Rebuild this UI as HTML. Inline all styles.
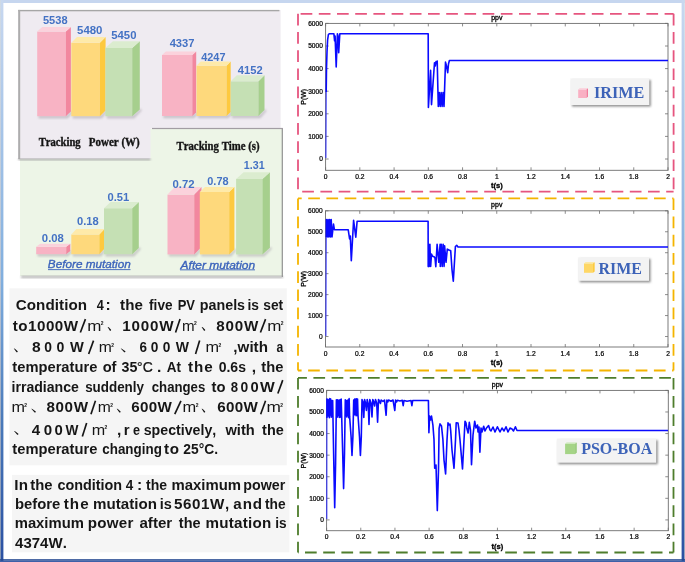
<!DOCTYPE html><html><head><meta charset="utf-8"><style>html,body{margin:0;padding:0;background:#fff;}svg{display:block;will-change:transform}</style></head><body>
<svg width="685" height="562" viewBox="0 0 685 562">
<defs>
<filter id="bl1" x="-20%" y="-20%" width="140%" height="140%"><feGaussianBlur stdDeviation="0.8"/></filter>
<filter id="bl2" x="-20%" y="-20%" width="140%" height="140%"><feGaussianBlur stdDeviation="1"/></filter>
<linearGradient id="fr" x1="0" y1="0" x2="0" y2="1">
 <stop offset="0" stop-color="#c8d8f0"/><stop offset="0.5" stop-color="#80aede"/><stop offset="0.75" stop-color="#4a7aba"/><stop offset="1" stop-color="#2a50a2"/>
</linearGradient>
<linearGradient id="fg" x1="0" y1="0" x2="0" y2="1"><stop offset="0" stop-color="#cfdae6"/><stop offset="0.5" stop-color="#b8c4d4"/><stop offset="1" stop-color="#8494b2"/></linearGradient>
</defs>
<rect width="685" height="562" fill="#ffffff"/>
<rect x="20" y="128.5" width="262.5" height="147.5" fill="#edf5e7"/>
<rect x="21" y="276" width="262" height="1.7" fill="#9c9c9c" filter="url(#bl1)"/>
<rect x="281.7" y="128" width="1.2" height="149" fill="#929292"/>
<path d="M18 10 H280.6 V128.5 H150.5 V159 H18 Z" fill="#efebf1"/>
<rect x="18.2" y="9.9" width="261.2" height="1.4" fill="#a6a6a6"/>
<rect x="18.2" y="9.9" width="2.0" height="149.3" fill="#adadad"/>
<rect x="152" y="127.9" width="130.8" height="1.2" fill="#a29da3"/>
<rect x="18.5" y="158.4" width="132" height="1.9" fill="#a2a2a2" filter="url(#bl1)"/>
<path d="M38.2 115.2 L66.8 115.2 L71.9 110.6 L72.9 112.6 L67.8 118.4 L38.7 118.4 Z" fill="#a9a4ab" opacity="0.55" filter="url(#bl1)"/>
<rect x="37.2" y="31.6" width="28.6" height="84.6" fill="#f8b3c4"/>
<path d="M65.8 31.6 L70.9 27.0 L70.9 111.6 L65.8 116.2 Z" fill="#f2879f"/>
<path d="M37.2 31.6 L42.3 27.0 L70.9 27.0 L65.8 31.6 Z" fill="#fbd2dc"/>
<path d="M72.3 115.2 L100.9 115.2 L106.6 109.4 L107.6 111.4 L101.9 118.4 L72.8 118.4 Z" fill="#a9a4ab" opacity="0.55" filter="url(#bl1)"/>
<rect x="71.3" y="42.8" width="28.6" height="73.4" fill="#fed97c"/>
<path d="M99.9 42.8 L105.6 37.0 L105.6 110.4 L99.9 116.2 Z" fill="#fdc93f"/>
<path d="M71.3 42.8 L77.0 37.0 L105.6 37.0 L99.9 42.8 Z" fill="#feeaa9"/>
<path d="M106.4 115.2 L133.2 115.2 L140.8 108.5 L141.8 110.5 L134.2 118.4 L106.9 118.4 Z" fill="#a9a4ab" opacity="0.55" filter="url(#bl1)"/>
<rect x="105.4" y="47.9" width="26.8" height="68.3" fill="#c5e0b4"/>
<path d="M132.2 47.9 L139.8 41.2 L139.8 109.5 L132.2 116.2 Z" fill="#a6cf8d"/>
<path d="M105.4 47.9 L113.0 41.2 L139.8 41.2 L132.2 47.9 Z" fill="#dbeccf"/>
<text x="42.96" y="24.40" font-family='"Liberation Sans", sans-serif' font-weight="bold" font-style="normal" font-size="11.5" fill="#4472c4" textLength="24.58" lengthAdjust="spacingAndGlyphs" style="font-kerning:none" >5538</text>
<text x="77.05" y="33.60" font-family='"Liberation Sans", sans-serif' font-weight="bold" font-style="normal" font-size="11.5" fill="#4472c4" textLength="25.42" lengthAdjust="spacingAndGlyphs" style="font-kerning:none" >5480</text>
<text x="111.25" y="38.70" font-family='"Liberation Sans", sans-serif' font-weight="bold" font-style="normal" font-size="11.5" fill="#4472c4" textLength="25.21" lengthAdjust="spacingAndGlyphs" style="font-kerning:none" >5450</text>
<path d="M163.0 115.0 L193.3 115.0 L197.2 111.5 L198.2 113.5 L194.3 118.2 L163.5 118.2 Z" fill="#a9a4ab" opacity="0.55" filter="url(#bl1)"/>
<rect x="162.0" y="55.0" width="30.3" height="61.0" fill="#f8b3c4"/>
<path d="M192.3 55.0 L196.2 51.5 L196.2 112.5 L192.3 116.0 Z" fill="#f2879f"/>
<path d="M162.0 55.0 L165.9 51.5 L196.2 51.5 L192.3 55.0 Z" fill="#fbd2dc"/>
<path d="M197.5 115.0 L227.5 115.0 L231.7 110.9 L232.7 112.9 L228.5 118.2 L198.0 118.2 Z" fill="#a9a4ab" opacity="0.55" filter="url(#bl1)"/>
<rect x="196.5" y="65.7" width="30.0" height="50.3" fill="#fed97c"/>
<path d="M226.5 65.7 L230.7 61.6 L230.7 111.9 L226.5 116.0 Z" fill="#fdc93f"/>
<path d="M196.5 65.7 L200.7 61.6 L230.7 61.6 L226.5 65.7 Z" fill="#feeaa9"/>
<path d="M231.7 115.0 L259.4 115.0 L265.5 109.0 L266.5 111.0 L260.4 118.2 L232.2 118.2 Z" fill="#a9a4ab" opacity="0.55" filter="url(#bl1)"/>
<rect x="230.7" y="81.3" width="27.7" height="34.7" fill="#c5e0b4"/>
<path d="M258.4 81.3 L264.5 75.3 L264.5 110.0 L258.4 116.0 Z" fill="#a6cf8d"/>
<path d="M230.7 81.3 L236.8 75.3 L264.5 75.3 L258.4 81.3 Z" fill="#dbeccf"/>
<text x="169.63" y="46.90" font-family='"Liberation Sans", sans-serif' font-weight="bold" font-style="normal" font-size="11.5" fill="#4472c4" textLength="24.86" lengthAdjust="spacingAndGlyphs" style="font-kerning:none" >4337</text>
<text x="201.24" y="60.80" font-family='"Liberation Sans", sans-serif' font-weight="bold" font-style="normal" font-size="11.5" fill="#4472c4" textLength="24.24" lengthAdjust="spacingAndGlyphs" style="font-kerning:none" >4247</text>
<text x="237.73" y="73.90" font-family='"Liberation Sans", sans-serif' font-weight="bold" font-style="normal" font-size="11.5" fill="#4472c4" textLength="24.92" lengthAdjust="spacingAndGlyphs" style="font-kerning:none" >4152</text>
<path d="M37.2 253.2 L67.2 253.2 L71.3 250.1 L72.3 252.1 L68.2 256.4 L37.7 256.4 Z" fill="#a9a4ab" opacity="0.55" filter="url(#bl1)"/>
<rect x="36.2" y="246.8" width="30.0" height="7.4" fill="#f8b3c4"/>
<path d="M66.2 246.8 L70.3 243.7 L70.3 251.1 L66.2 254.2 Z" fill="#f2879f"/>
<path d="M36.2 246.8 L40.3 243.7 L70.3 243.7 L66.2 246.8 Z" fill="#fbd2dc"/>
<path d="M72.3 253.2 L100.3 253.2 L105.4 247.7 L106.4 249.7 L101.3 256.4 L72.8 256.4 Z" fill="#a9a4ab" opacity="0.55" filter="url(#bl1)"/>
<rect x="71.3" y="234.5" width="28.0" height="19.7" fill="#fed97c"/>
<path d="M99.3 234.5 L104.4 229.0 L104.4 248.7 L99.3 254.2 Z" fill="#fdc93f"/>
<path d="M71.3 234.5 L76.4 229.0 L104.4 229.0 L99.3 234.5 Z" fill="#feeaa9"/>
<path d="M105.0 253.2 L133.2 253.2 L139.8 247.1 L140.8 249.1 L134.2 256.4 L105.5 256.4 Z" fill="#a9a4ab" opacity="0.55" filter="url(#bl1)"/>
<rect x="104.0" y="208.2" width="28.2" height="46.0" fill="#c5e0b4"/>
<path d="M132.2 208.2 L138.8 202.1 L138.8 248.1 L132.2 254.2 Z" fill="#a6cf8d"/>
<path d="M104.0 208.2 L110.6 202.1 L138.8 202.1 L132.2 208.2 Z" fill="#dbeccf"/>
<text x="41.85" y="242.00" font-family='"Liberation Sans", sans-serif' font-weight="bold" font-style="normal" font-size="11.5" fill="#4472c4" textLength="21.99" lengthAdjust="spacingAndGlyphs" style="font-kerning:none" >0.08</text>
<text x="76.96" y="224.70" font-family='"Liberation Sans", sans-serif' font-weight="bold" font-style="normal" font-size="11.5" fill="#4472c4" textLength="21.68" lengthAdjust="spacingAndGlyphs" style="font-kerning:none" >0.18</text>
<text x="107.56" y="200.70" font-family='"Liberation Sans", sans-serif' font-weight="bold" font-style="normal" font-size="11.5" fill="#4472c4" textLength="21.75" lengthAdjust="spacingAndGlyphs" style="font-kerning:none" >0.51</text>
<path d="M168.5 253.4 L195.2 253.4 L202.5 245.9 L203.5 247.9 L196.2 256.6 L169.0 256.6 Z" fill="#a9a4ab" opacity="0.55" filter="url(#bl1)"/>
<rect x="167.5" y="194.6" width="26.7" height="59.8" fill="#f8b3c4"/>
<path d="M194.2 194.6 L201.5 187.1 L201.5 246.9 L194.2 254.4 Z" fill="#f2879f"/>
<path d="M167.5 194.6 L174.8 187.1 L201.5 187.1 L194.2 194.6 Z" fill="#fbd2dc"/>
<path d="M200.8 253.4 L230.2 253.4 L235.4 248.5 L236.4 250.5 L231.2 256.6 L201.3 256.6 Z" fill="#a9a4ab" opacity="0.55" filter="url(#bl1)"/>
<rect x="199.8" y="192.0" width="29.4" height="62.4" fill="#fed97c"/>
<path d="M229.2 192.0 L234.4 187.1 L234.4 249.5 L229.2 254.4 Z" fill="#fdc93f"/>
<path d="M199.8 192.0 L205.0 187.1 L234.4 187.1 L229.2 192.0 Z" fill="#feeaa9"/>
<path d="M237.1 253.4 L263.4 253.4 L270.9 246.7 L271.9 248.7 L264.4 256.6 L237.6 256.6 Z" fill="#a9a4ab" opacity="0.55" filter="url(#bl1)"/>
<rect x="236.1" y="178.9" width="26.3" height="75.5" fill="#c5e0b4"/>
<path d="M262.4 178.9 L269.9 172.2 L269.9 247.7 L262.4 254.4 Z" fill="#a6cf8d"/>
<path d="M236.1 178.9 L243.6 172.2 L269.9 172.2 L262.4 178.9 Z" fill="#dbeccf"/>
<text x="172.55" y="188.30" font-family='"Liberation Sans", sans-serif' font-weight="bold" font-style="normal" font-size="11.5" fill="#4472c4" textLength="22.10" lengthAdjust="spacingAndGlyphs" style="font-kerning:none" >0.72</text>
<text x="207.27" y="184.90" font-family='"Liberation Sans", sans-serif' font-weight="bold" font-style="normal" font-size="11.5" fill="#4472c4" textLength="21.27" lengthAdjust="spacingAndGlyphs" style="font-kerning:none" >0.78</text>
<text x="243.83" y="169.00" font-family='"Liberation Sans", sans-serif' font-weight="bold" font-style="normal" font-size="11.5" fill="#4472c4" textLength="20.77" lengthAdjust="spacingAndGlyphs" style="font-kerning:none" >1.31</text>
<text x="38.73" y="145.60" font-family='"Liberation Serif", serif' font-weight="bold" font-style="normal" font-size="11.5" fill="#141414" textLength="41.97" lengthAdjust="spacingAndGlyphs" style="font-kerning:none" stroke="#141414" stroke-width="0.35">Tracking</text>
<text x="88.81" y="145.60" font-family='"Liberation Serif", serif' font-weight="bold" font-style="normal" font-size="11.5" fill="#141414" textLength="50.87" lengthAdjust="spacingAndGlyphs" style="font-kerning:none" stroke="#141414" stroke-width="0.35">Power (W)</text>
<text x="176.53" y="150.00" font-family='"Liberation Serif", serif' font-weight="bold" font-style="normal" font-size="12" fill="#141414" textLength="83.14" lengthAdjust="spacingAndGlyphs" style="font-kerning:none" stroke="#141414" stroke-width="0.35">Tracking Time (s)</text>
<text x="47.84" y="268.20" font-family='"Liberation Sans", sans-serif' font-weight="normal" font-style="italic" font-size="11.8" fill="#3b63bb" textLength="82.89" lengthAdjust="spacingAndGlyphs" style="font-kerning:none" stroke="#3b63bb" stroke-width="0.35">Before mutation</text>
<rect x="48" y="269.2" width="82.5" height="0.9" fill="#3b63bb"/>
<text x="180.59" y="268.60" font-family='"Liberation Sans", sans-serif' font-weight="normal" font-style="italic" font-size="11.8" fill="#3b63bb" textLength="74.55" lengthAdjust="spacingAndGlyphs" style="font-kerning:none" stroke="#3b63bb" stroke-width="0.35">After mutation</text>
<rect x="180" y="269.4" width="75" height="0.9" fill="#3b63bb"/>
<rect x="9.4" y="288.3" width="277.4" height="177.0" fill="#f5f5f5"/>
<rect x="12" y="474.9" width="277.4" height="77.4" fill="#f5f5f5"/>
<text transform="translate(15.68 309.60) scale(1.0700 1)" font-family='"Liberation Sans", sans-serif' font-weight="bold" font-style="normal" font-size="14.2" fill="#161616" letter-spacing="0.068" style="font-kerning:none" >Condition</text>
<text transform="translate(96.71 309.60) scale(0.8940 1)" font-family='"Liberation Sans", sans-serif' font-weight="bold" font-style="normal" font-size="14.2" fill="#161616" letter-spacing="0.000" style="font-kerning:none" >4</text>
<text transform="translate(105.60 309.60) scale(1.1000 1)" font-family='"Liberation Sans", sans-serif' font-weight="bold" font-style="normal" font-size="14.2" fill="#161616" letter-spacing="0.000" style="font-kerning:none" >:</text>
<text transform="translate(120.12 309.60) scale(1.0658 1)" font-family='"Liberation Sans", sans-serif' font-weight="bold" font-style="normal" font-size="14.2" fill="#161616" letter-spacing="0.000" style="font-kerning:none" >the</text>
<text transform="translate(149.07 309.60) scale(0.9604 1)" font-family='"Liberation Sans", sans-serif' font-weight="bold" font-style="normal" font-size="14.2" fill="#161616" letter-spacing="0.000" style="font-kerning:none" >five</text>
<text transform="translate(177.63 309.60) scale(0.9164 1)" font-family='"Liberation Sans", sans-serif' font-weight="bold" font-style="normal" font-size="14.2" fill="#161616" letter-spacing="0.000" style="font-kerning:none" >PV</text>
<text transform="translate(199.76 309.60) scale(1.0077 1)" font-family='"Liberation Sans", sans-serif' font-weight="bold" font-style="normal" font-size="14.2" fill="#161616" letter-spacing="-0.000" style="font-kerning:none" >panels</text>
<text transform="translate(247.53 309.60) scale(0.9738 1)" font-family='"Liberation Sans", sans-serif' font-weight="bold" font-style="normal" font-size="14.2" fill="#161616" letter-spacing="0.000" style="font-kerning:none" >is</text>
<text transform="translate(263.21 309.60) scale(0.9722 1)" font-family='"Liberation Sans", sans-serif' font-weight="bold" font-style="normal" font-size="14.2" fill="#161616" letter-spacing="0.000" style="font-kerning:none" >set</text>
<text transform="translate(12.71 330.50) scale(1.0700 1)" font-family='"Liberation Sans", sans-serif' font-weight="bold" font-style="normal" font-size="14.2" fill="#161616" letter-spacing="0.470" style="font-kerning:none" >to1000W</text>
<line x1="80.35" y1="332.50" x2="85.45" y2="319.10" stroke="#161616" stroke-width="1.65"/>
<text x="87.37" y="330.50" font-family='"Liberation Sans", sans-serif' font-weight="normal" font-style="normal" font-size="15.2" fill="#161616" textLength="14.15" lengthAdjust="spacingAndGlyphs" style="font-kerning:none" >m</text><text x="100.83" y="325.10" font-family='"Liberation Sans", sans-serif' font-weight="bold" font-style="normal" font-size="5.6" fill="#161616" textLength="2.77" lengthAdjust="spacingAndGlyphs" style="font-kerning:none" >2</text>
<path d="M107.60 327.10 Q108.50 326.70 109.00 327.60 L111.10 329.80 Q111.30 331.10 109.90 330.70 Z" fill="#161616"/>
<text transform="translate(122.14 330.50) scale(1.0700 1)" font-family='"Liberation Sans", sans-serif' font-weight="bold" font-style="normal" font-size="14.2" fill="#161616" letter-spacing="0.801" style="font-kerning:none" >1000W</text>
<line x1="175.55" y1="332.50" x2="180.05" y2="319.10" stroke="#161616" stroke-width="1.65"/>
<text x="181.90" y="330.50" font-family='"Liberation Sans", sans-serif' font-weight="normal" font-style="normal" font-size="15.2" fill="#161616" textLength="12.60" lengthAdjust="spacingAndGlyphs" style="font-kerning:none" >m</text><text x="193.93" y="325.10" font-family='"Liberation Sans", sans-serif' font-weight="bold" font-style="normal" font-size="5.6" fill="#161616" textLength="2.77" lengthAdjust="spacingAndGlyphs" style="font-kerning:none" >2</text>
<path d="M201.60 327.10 Q202.50 326.70 203.00 327.60 L205.20 329.80 Q205.40 331.10 204.00 330.70 Z" fill="#161616"/>
<text transform="translate(216.32 330.50) scale(1.0700 1)" font-family='"Liberation Sans", sans-serif' font-weight="bold" font-style="normal" font-size="14.2" fill="#161616" letter-spacing="0.749" style="font-kerning:none" >800W</text>
<line x1="260.45" y1="332.50" x2="265.55" y2="319.10" stroke="#161616" stroke-width="1.65"/>
<text x="267.17" y="330.50" font-family='"Liberation Sans", sans-serif' font-weight="normal" font-style="normal" font-size="15.2" fill="#161616" textLength="14.15" lengthAdjust="spacingAndGlyphs" style="font-kerning:none" >m</text><text x="280.63" y="325.10" font-family='"Liberation Sans", sans-serif' font-weight="bold" font-style="normal" font-size="5.6" fill="#161616" textLength="2.77" lengthAdjust="spacingAndGlyphs" style="font-kerning:none" >2</text>
<path d="M13.80 348.60 Q14.70 348.20 15.20 349.10 L17.70 351.30 Q17.90 352.60 16.50 352.20 Z" fill="#161616"/>
<text transform="translate(32.10 352.00) scale(1.0985 1)" font-family='"Liberation Sans", sans-serif' font-weight="bold" font-style="normal" font-size="14.2" fill="#161616" letter-spacing="0.000" style="font-kerning:none" >8</text>
<text transform="translate(44.35 352.00) scale(0.9773 1)" font-family='"Liberation Sans", sans-serif' font-weight="bold" font-style="normal" font-size="14.2" fill="#161616" letter-spacing="0.000" style="font-kerning:none" >0</text>
<text transform="translate(56.54 352.00) scale(0.9921 1)" font-family='"Liberation Sans", sans-serif' font-weight="bold" font-style="normal" font-size="14.2" fill="#161616" letter-spacing="0.000" style="font-kerning:none" >0</text>
<text transform="translate(69.89 352.00) scale(1.0318 1)" font-family='"Liberation Sans", sans-serif' font-weight="bold" font-style="normal" font-size="14.2" fill="#161616" letter-spacing="0.000" style="font-kerning:none" >W</text>
<line x1="88.65" y1="354.00" x2="93.55" y2="340.60" stroke="#161616" stroke-width="1.65"/>
<text x="98.86" y="352.00" font-family='"Liberation Sans", sans-serif' font-weight="normal" font-style="normal" font-size="15.2" fill="#161616" textLength="13.08" lengthAdjust="spacingAndGlyphs" style="font-kerning:none" >m</text><text x="111.33" y="346.60" font-family='"Liberation Sans", sans-serif' font-weight="bold" font-style="normal" font-size="5.6" fill="#161616" textLength="2.77" lengthAdjust="spacingAndGlyphs" style="font-kerning:none" >2</text>
<path d="M120.70 348.60 Q121.60 348.20 122.10 349.10 L125.40 351.30 Q125.60 352.60 124.20 352.20 Z" fill="#161616"/>
<text transform="translate(139.41 352.00) scale(0.9469 1)" font-family='"Liberation Sans", sans-serif' font-weight="bold" font-style="normal" font-size="14.2" fill="#161616" letter-spacing="0.000" style="font-kerning:none" >6</text>
<text transform="translate(150.76 352.00) scale(0.9625 1)" font-family='"Liberation Sans", sans-serif' font-weight="bold" font-style="normal" font-size="14.2" fill="#161616" letter-spacing="0.000" style="font-kerning:none" >0</text>
<text transform="translate(162.66 352.00) scale(0.9625 1)" font-family='"Liberation Sans", sans-serif' font-weight="bold" font-style="normal" font-size="14.2" fill="#161616" letter-spacing="0.000" style="font-kerning:none" >0</text>
<text transform="translate(175.79 352.00) scale(0.9869 1)" font-family='"Liberation Sans", sans-serif' font-weight="bold" font-style="normal" font-size="14.2" fill="#161616" letter-spacing="0.000" style="font-kerning:none" >W</text>
<line x1="195.55" y1="354.00" x2="199.65" y2="340.60" stroke="#161616" stroke-width="1.65"/>
<text x="205.52" y="352.00" font-family='"Liberation Sans", sans-serif' font-weight="normal" font-style="normal" font-size="15.2" fill="#161616" textLength="13.55" lengthAdjust="spacingAndGlyphs" style="font-kerning:none" >m</text><text x="218.43" y="346.60" font-family='"Liberation Sans", sans-serif' font-weight="bold" font-style="normal" font-size="5.6" fill="#161616" textLength="2.77" lengthAdjust="spacingAndGlyphs" style="font-kerning:none" >2</text>
<text transform="translate(233.37 352.00) scale(1.0691 1)" font-family='"Liberation Sans", sans-serif' font-weight="bold" font-style="normal" font-size="14.2" fill="#161616" letter-spacing="0.000" style="font-kerning:none" >,with</text>
<text transform="translate(276.54 352.00) scale(0.8585 1)" font-family='"Liberation Sans", sans-serif' font-weight="bold" font-style="normal" font-size="14.2" fill="#161616" letter-spacing="0.000" style="font-kerning:none" >a</text>
<text transform="translate(12.32 371.70) scale(1.0367 1)" font-family='"Liberation Sans", sans-serif' font-weight="bold" font-style="normal" font-size="14.2" fill="#161616" letter-spacing="0.000" style="font-kerning:none" >temperature</text>
<text transform="translate(102.63 371.70) scale(1.0330 1)" font-family='"Liberation Sans", sans-serif' font-weight="bold" font-style="normal" font-size="14.2" fill="#161616" letter-spacing="-0.000" style="font-kerning:none" >of</text>
<text transform="translate(121.47 371.70) scale(1.0017 1)" font-family='"Liberation Sans", sans-serif' font-weight="bold" font-style="normal" font-size="14.2" fill="#161616" letter-spacing="0.000" style="font-kerning:none" >35</text>
<text transform="translate(137.07 371.70) scale(0.9306 1)" font-family='"Liberation Sans", sans-serif' font-weight="normal" font-style="normal" font-size="15.0" fill="#161616" letter-spacing="0.000" style="font-kerning:none" stroke="#161616" stroke-width="0.25">°C</text>
<text transform="translate(156.94 371.70) scale(1.1000 1)" font-family='"Liberation Sans", sans-serif' font-weight="bold" font-style="normal" font-size="14.2" fill="#161616" letter-spacing="0.000" style="font-kerning:none" >.</text>
<text transform="translate(166.86 371.70) scale(0.9477 1)" font-family='"Liberation Sans", sans-serif' font-weight="bold" font-style="normal" font-size="14.2" fill="#161616" letter-spacing="0.000" style="font-kerning:none" >At</text>
<text transform="translate(187.91 371.70) scale(1.0700 1)" font-family='"Liberation Sans", sans-serif' font-weight="bold" font-style="normal" font-size="14.2" fill="#161616" letter-spacing="0.894" style="font-kerning:none" >the</text>
<text transform="translate(218.64 371.70) scale(0.9889 1)" font-family='"Liberation Sans", sans-serif' font-weight="bold" font-style="normal" font-size="14.2" fill="#161616" letter-spacing="0.000" style="font-kerning:none" >0.6s</text>
<text transform="translate(251.77 371.70) scale(1.1000 1)" font-family='"Liberation Sans", sans-serif' font-weight="bold" font-style="normal" font-size="14.2" fill="#161616" letter-spacing="0.000" style="font-kerning:none" >,</text>
<text transform="translate(261.32 371.70) scale(1.0368 1)" font-family='"Liberation Sans", sans-serif' font-weight="bold" font-style="normal" font-size="14.2" fill="#161616" letter-spacing="-0.000" style="font-kerning:none" >the</text>
<text transform="translate(11.51 391.50) scale(0.9939 1)" font-family='"Liberation Sans", sans-serif' font-weight="bold" font-style="normal" font-size="14.2" fill="#161616" letter-spacing="0.000" style="font-kerning:none" >irradiance</text>
<text transform="translate(85.13 391.50) scale(0.9456 1)" font-family='"Liberation Sans", sans-serif' font-weight="bold" font-style="normal" font-size="14.2" fill="#161616" letter-spacing="0.000" style="font-kerning:none" >suddenly</text>
<text transform="translate(151.78 391.50) scale(0.9296 1)" font-family='"Liberation Sans", sans-serif' font-weight="bold" font-style="normal" font-size="14.2" fill="#161616" letter-spacing="0.000" style="font-kerning:none" >changes</text>
<text transform="translate(211.62 391.50) scale(1.0415 1)" font-family='"Liberation Sans", sans-serif' font-weight="bold" font-style="normal" font-size="14.2" fill="#161616" letter-spacing="0.000" style="font-kerning:none" >to</text>
<text transform="translate(230.68 391.50) scale(0.9273 1)" font-family='"Liberation Sans", sans-serif' font-weight="bold" font-style="normal" font-size="14.2" fill="#161616" letter-spacing="0.000" style="font-kerning:none" >8</text>
<text transform="translate(240.55 391.50) scale(0.9773 1)" font-family='"Liberation Sans", sans-serif' font-weight="bold" font-style="normal" font-size="14.2" fill="#161616" letter-spacing="0.000" style="font-kerning:none" >0</text>
<text transform="translate(250.62 391.50) scale(1.0365 1)" font-family='"Liberation Sans", sans-serif' font-weight="bold" font-style="normal" font-size="14.2" fill="#161616" letter-spacing="0.000" style="font-kerning:none" >0</text>
<text transform="translate(260.03 391.50) scale(1.1000 1)" font-family='"Liberation Sans", sans-serif' font-weight="bold" font-style="normal" font-size="14.2" fill="#161616" letter-spacing="0.000" style="font-kerning:none" >W</text>
<line x1="277.85" y1="393.50" x2="282.75" y2="380.10" stroke="#161616" stroke-width="1.65"/>
<text x="11.43" y="412.20" font-family='"Liberation Sans", sans-serif' font-weight="normal" font-style="normal" font-size="15.2" fill="#161616" textLength="13.43" lengthAdjust="spacingAndGlyphs" style="font-kerning:none" >m</text><text x="24.23" y="406.80" font-family='"Liberation Sans", sans-serif' font-weight="bold" font-style="normal" font-size="5.6" fill="#161616" textLength="2.77" lengthAdjust="spacingAndGlyphs" style="font-kerning:none" >2</text>
<path d="M31.30 408.80 Q32.20 408.40 32.70 409.30 L35.80 411.50 Q36.00 412.80 34.60 412.40 Z" fill="#161616"/>
<text transform="translate(46.42 412.20) scale(1.0700 1)" font-family='"Liberation Sans", sans-serif' font-weight="bold" font-style="normal" font-size="14.2" fill="#161616" letter-spacing="0.594" style="font-kerning:none" >800W</text>
<line x1="90.95" y1="414.20" x2="95.45" y2="400.80" stroke="#161616" stroke-width="1.65"/>
<text x="97.86" y="412.20" font-family='"Liberation Sans", sans-serif' font-weight="normal" font-style="normal" font-size="15.2" fill="#161616" textLength="13.08" lengthAdjust="spacingAndGlyphs" style="font-kerning:none" >m</text><text x="110.33" y="406.80" font-family='"Liberation Sans", sans-serif' font-weight="bold" font-style="normal" font-size="5.6" fill="#161616" textLength="2.77" lengthAdjust="spacingAndGlyphs" style="font-kerning:none" >2</text>
<path d="M116.70 408.80 Q117.60 408.40 118.10 409.30 L120.60 411.50 Q120.80 412.80 119.40 412.40 Z" fill="#161616"/>
<text transform="translate(131.24 412.20) scale(1.0700 1)" font-family='"Liberation Sans", sans-serif' font-weight="bold" font-style="normal" font-size="14.2" fill="#161616" letter-spacing="0.305" style="font-kerning:none" >600W</text>
<line x1="174.75" y1="414.20" x2="180.95" y2="400.80" stroke="#161616" stroke-width="1.65"/>
<text x="182.61" y="412.20" font-family='"Liberation Sans", sans-serif' font-weight="normal" font-style="normal" font-size="15.2" fill="#161616" textLength="13.67" lengthAdjust="spacingAndGlyphs" style="font-kerning:none" >m</text><text x="195.63" y="406.80" font-family='"Liberation Sans", sans-serif' font-weight="bold" font-style="normal" font-size="5.6" fill="#161616" textLength="2.77" lengthAdjust="spacingAndGlyphs" style="font-kerning:none" >2</text>
<path d="M201.60 408.80 Q202.50 408.40 203.00 409.30 L205.20 411.50 Q205.40 412.80 204.00 412.40 Z" fill="#161616"/>
<text transform="translate(217.14 412.20) scale(1.0700 1)" font-family='"Liberation Sans", sans-serif' font-weight="bold" font-style="normal" font-size="14.2" fill="#161616" letter-spacing="0.305" style="font-kerning:none" >600W</text>
<line x1="260.65" y1="414.20" x2="265.55" y2="400.80" stroke="#161616" stroke-width="1.65"/>
<text x="266.55" y="412.20" font-family='"Liberation Sans", sans-serif' font-weight="normal" font-style="normal" font-size="15.2" fill="#161616" textLength="14.39" lengthAdjust="spacingAndGlyphs" style="font-kerning:none" >m</text><text x="280.23" y="406.80" font-family='"Liberation Sans", sans-serif' font-weight="bold" font-style="normal" font-size="5.6" fill="#161616" textLength="2.77" lengthAdjust="spacingAndGlyphs" style="font-kerning:none" >2</text>
<path d="M14.00 431.10 Q14.90 430.70 15.40 431.60 L18.40 433.80 Q18.60 435.10 17.20 434.70 Z" fill="#161616"/>
<text transform="translate(31.87 434.50) scale(1.0649 1)" font-family='"Liberation Sans", sans-serif' font-weight="bold" font-style="normal" font-size="14.2" fill="#161616" letter-spacing="0.000" style="font-kerning:none" >4</text>
<text transform="translate(43.70 434.50) scale(1.0661 1)" font-family='"Liberation Sans", sans-serif' font-weight="bold" font-style="normal" font-size="14.2" fill="#161616" letter-spacing="0.000" style="font-kerning:none" >0</text>
<text transform="translate(54.41 434.50) scale(1.0513 1)" font-family='"Liberation Sans", sans-serif' font-weight="bold" font-style="normal" font-size="14.2" fill="#161616" letter-spacing="0.000" style="font-kerning:none" >0</text>
<text transform="translate(65.59 434.50) scale(0.9645 1)" font-family='"Liberation Sans", sans-serif' font-weight="bold" font-style="normal" font-size="14.2" fill="#161616" letter-spacing="0.000" style="font-kerning:none" >W</text>
<line x1="82.35" y1="436.50" x2="86.65" y2="423.10" stroke="#161616" stroke-width="1.65"/>
<text x="91.73" y="434.50" font-family='"Liberation Sans", sans-serif' font-weight="normal" font-style="normal" font-size="15.2" fill="#161616" textLength="13.43" lengthAdjust="spacingAndGlyphs" style="font-kerning:none" >m</text><text x="104.53" y="429.10" font-family='"Liberation Sans", sans-serif' font-weight="bold" font-style="normal" font-size="5.6" fill="#161616" textLength="2.77" lengthAdjust="spacingAndGlyphs" style="font-kerning:none" >2</text>
<text transform="translate(117.02 434.50) scale(1.1000 1)" font-family='"Liberation Sans", sans-serif' font-weight="bold" font-style="normal" font-size="14.2" fill="#161616" letter-spacing="0.000" style="font-kerning:none" >,</text>
<text transform="translate(123.82 434.50) scale(1.0514 1)" font-family='"Liberation Sans", sans-serif' font-weight="bold" font-style="normal" font-size="14.2" fill="#161616" letter-spacing="0.000" style="font-kerning:none" >r</text>
<text transform="translate(133.01 434.50) scale(0.8896 1)" font-family='"Liberation Sans", sans-serif' font-weight="bold" font-style="normal" font-size="14.2" fill="#161616" letter-spacing="0.000" style="font-kerning:none" >e</text>
<text transform="translate(143.70 434.50) scale(0.9990 1)" font-family='"Liberation Sans", sans-serif' font-weight="bold" font-style="normal" font-size="14.2" fill="#161616" letter-spacing="0.000" style="font-kerning:none" >spectively,</text>
<text transform="translate(225.44 434.50) scale(1.0343 1)" font-family='"Liberation Sans", sans-serif' font-weight="bold" font-style="normal" font-size="14.2" fill="#161616" letter-spacing="0.000" style="font-kerning:none" >with</text>
<text transform="translate(262.12 434.50) scale(1.0174 1)" font-family='"Liberation Sans", sans-serif' font-weight="bold" font-style="normal" font-size="14.2" fill="#161616" letter-spacing="0.000" style="font-kerning:none" >the</text>
<text transform="translate(12.32 453.60) scale(1.0367 1)" font-family='"Liberation Sans", sans-serif' font-weight="bold" font-style="normal" font-size="14.2" fill="#161616" letter-spacing="0.000" style="font-kerning:none" >temperature</text>
<text transform="translate(102.28 453.60) scale(0.9447 1)" font-family='"Liberation Sans", sans-serif' font-weight="bold" font-style="normal" font-size="14.2" fill="#161616" letter-spacing="0.000" style="font-kerning:none" >changing</text>
<text transform="translate(163.91 453.60) scale(1.0700 1)" font-family='"Liberation Sans", sans-serif' font-weight="bold" font-style="normal" font-size="14.2" fill="#161616" letter-spacing="0.783" style="font-kerning:none" >to</text>
<text transform="translate(183.32 453.60) scale(0.9736 1)" font-family='"Liberation Sans", sans-serif' font-weight="bold" font-style="normal" font-size="14.2" fill="#161616" letter-spacing="0.000" style="font-kerning:none" >25°C.</text>
<text transform="translate(14.28 489.50) scale(1.0700 1)" font-family='"Liberation Sans", sans-serif' font-weight="bold" font-style="normal" font-size="14.2" fill="#161616" letter-spacing="0.239" style="font-kerning:none" >In</text>
<text transform="translate(30.22 489.50) scale(1.0464 1)" font-family='"Liberation Sans", sans-serif' font-weight="bold" font-style="normal" font-size="14.2" fill="#161616" letter-spacing="0.000" style="font-kerning:none" >the</text>
<text transform="translate(57.44 489.50) scale(1.0136 1)" font-family='"Liberation Sans", sans-serif' font-weight="bold" font-style="normal" font-size="14.2" fill="#161616" letter-spacing="-0.000" style="font-kerning:none" >condition</text>
<text transform="translate(125.70 489.50) scale(0.9466 1)" font-family='"Liberation Sans", sans-serif' font-weight="bold" font-style="normal" font-size="14.2" fill="#161616" letter-spacing="0.000" style="font-kerning:none" >4</text>
<text transform="translate(137.10 489.50) scale(1.1000 1)" font-family='"Liberation Sans", sans-serif' font-weight="bold" font-style="normal" font-size="14.2" fill="#161616" letter-spacing="0.000" style="font-kerning:none" >:</text>
<text transform="translate(146.03 489.50) scale(0.9883 1)" font-family='"Liberation Sans", sans-serif' font-weight="bold" font-style="normal" font-size="14.2" fill="#161616" letter-spacing="0.000" style="font-kerning:none" >the</text>
<text transform="translate(171.52 489.50) scale(1.0500 1)" font-family='"Liberation Sans", sans-serif' font-weight="bold" font-style="normal" font-size="14.2" fill="#161616" letter-spacing="0.000" style="font-kerning:none" >maximum</text>
<text transform="translate(243.26 489.50) scale(1.0058 1)" font-family='"Liberation Sans", sans-serif' font-weight="bold" font-style="normal" font-size="14.2" fill="#161616" letter-spacing="0.000" style="font-kerning:none" >power</text>
<text transform="translate(14.92 508.60) scale(1.0482 1)" font-family='"Liberation Sans", sans-serif' font-weight="bold" font-style="normal" font-size="14.2" fill="#161616" letter-spacing="0.000" style="font-kerning:none" >before</text>
<text transform="translate(63.71 508.60) scale(1.0700 1)" font-family='"Liberation Sans", sans-serif' font-weight="bold" font-style="normal" font-size="14.2" fill="#161616" letter-spacing="1.034" style="font-kerning:none" >the</text>
<text transform="translate(93.10 508.60) scale(1.0666 1)" font-family='"Liberation Sans", sans-serif' font-weight="bold" font-style="normal" font-size="14.2" fill="#161616" letter-spacing="0.000" style="font-kerning:none" >mutation</text>
<text transform="translate(159.69 508.60) scale(1.0225 1)" font-family='"Liberation Sans", sans-serif' font-weight="bold" font-style="normal" font-size="14.2" fill="#161616" letter-spacing="-0.000" style="font-kerning:none" >is</text>
<text transform="translate(174.03 508.60) scale(1.0700 1)" font-family='"Liberation Sans", sans-serif' font-weight="bold" font-style="normal" font-size="14.2" fill="#161616" letter-spacing="0.527" style="font-kerning:none" >5601W,</text>
<text transform="translate(233.35 508.60) scale(1.0700 1)" font-family='"Liberation Sans", sans-serif' font-weight="bold" font-style="normal" font-size="14.2" fill="#161616" letter-spacing="0.810" style="font-kerning:none" >and</text>
<text transform="translate(264.93 508.60) scale(0.9689 1)" font-family='"Liberation Sans", sans-serif' font-weight="bold" font-style="normal" font-size="14.2" fill="#161616" letter-spacing="0.000" style="font-kerning:none" >the</text>
<text transform="translate(14.72 528.00) scale(1.0438 1)" font-family='"Liberation Sans", sans-serif' font-weight="bold" font-style="normal" font-size="14.2" fill="#161616" letter-spacing="0.000" style="font-kerning:none" >maximum</text>
<text transform="translate(87.70 528.00) scale(1.0700 1)" font-family='"Liberation Sans", sans-serif' font-weight="bold" font-style="normal" font-size="14.2" fill="#161616" letter-spacing="0.254" style="font-kerning:none" >power</text>
<text transform="translate(139.46 528.00) scale(1.0648 1)" font-family='"Liberation Sans", sans-serif' font-weight="bold" font-style="normal" font-size="14.2" fill="#161616" letter-spacing="0.000" style="font-kerning:none" >after</text>
<text transform="translate(178.82 528.00) scale(1.0222 1)" font-family='"Liberation Sans", sans-serif' font-weight="bold" font-style="normal" font-size="14.2" fill="#161616" letter-spacing="0.000" style="font-kerning:none" >the</text>
<text transform="translate(205.60 528.00) scale(1.0700 1)" font-family='"Liberation Sans", sans-serif' font-weight="bold" font-style="normal" font-size="14.2" fill="#161616" letter-spacing="0.200" style="font-kerning:none" >mutation</text>
<text transform="translate(275.24 528.00) scale(0.9641 1)" font-family='"Liberation Sans", sans-serif' font-weight="bold" font-style="normal" font-size="14.2" fill="#161616" letter-spacing="0.000" style="font-kerning:none" >is</text>
<text transform="translate(15.07 547.60) scale(1.0577 1)" font-family='"Liberation Sans", sans-serif' font-weight="bold" font-style="normal" font-size="14.2" fill="#161616" letter-spacing="0.000" style="font-kerning:none" >4374W.</text>
<line x1="298.0" y1="13.8" x2="673.6" y2="13.8" stroke="#e6557f" stroke-width="1.8" stroke-dasharray="11.7 6.5" stroke-dashoffset="15.6"/>
<line x1="298.0" y1="191.7" x2="673.6" y2="191.7" stroke="#e6557f" stroke-width="1.8" stroke-dasharray="11.7 6.5" stroke-dashoffset="14.0"/>
<line x1="298.0" y1="13.8" x2="298.0" y2="191.7" stroke="#e6557f" stroke-width="1.8" stroke-dasharray="11.7 6.5" stroke-dashoffset="0"/>
<line x1="673.6" y1="13.8" x2="673.6" y2="191.7" stroke="#e6557f" stroke-width="1.8" stroke-dasharray="11.7 6.5" stroke-dashoffset="0"/>
<rect x="325.6" y="23.4" width="342.4" height="146.9" fill="#fff" stroke="#6e6e6e" stroke-width="0.9"/>
<line x1="325.60" y1="170.3" x2="325.60" y2="167.3" stroke="#6e6e6e" stroke-width="0.8"/>
<line x1="325.60" y1="23.4" x2="325.60" y2="26.4" stroke="#6e6e6e" stroke-width="0.8"/>
<text x="325.60" y="178.80" font-family='"Liberation Sans", sans-serif' font-weight="normal" font-style="normal" font-size="6.7" fill="#000" text-anchor="middle" stroke="#000" stroke-width="0.22">0</text>
<line x1="359.84" y1="170.3" x2="359.84" y2="167.3" stroke="#6e6e6e" stroke-width="0.8"/>
<line x1="359.84" y1="23.4" x2="359.84" y2="26.4" stroke="#6e6e6e" stroke-width="0.8"/>
<text x="359.84" y="178.80" font-family='"Liberation Sans", sans-serif' font-weight="normal" font-style="normal" font-size="6.7" fill="#000" text-anchor="middle" stroke="#000" stroke-width="0.22">0.2</text>
<line x1="394.08" y1="170.3" x2="394.08" y2="167.3" stroke="#6e6e6e" stroke-width="0.8"/>
<line x1="394.08" y1="23.4" x2="394.08" y2="26.4" stroke="#6e6e6e" stroke-width="0.8"/>
<text x="394.08" y="178.80" font-family='"Liberation Sans", sans-serif' font-weight="normal" font-style="normal" font-size="6.7" fill="#000" text-anchor="middle" stroke="#000" stroke-width="0.22">0.4</text>
<line x1="428.32" y1="170.3" x2="428.32" y2="167.3" stroke="#6e6e6e" stroke-width="0.8"/>
<line x1="428.32" y1="23.4" x2="428.32" y2="26.4" stroke="#6e6e6e" stroke-width="0.8"/>
<text x="428.32" y="178.80" font-family='"Liberation Sans", sans-serif' font-weight="normal" font-style="normal" font-size="6.7" fill="#000" text-anchor="middle" stroke="#000" stroke-width="0.22">0.6</text>
<line x1="462.56" y1="170.3" x2="462.56" y2="167.3" stroke="#6e6e6e" stroke-width="0.8"/>
<line x1="462.56" y1="23.4" x2="462.56" y2="26.4" stroke="#6e6e6e" stroke-width="0.8"/>
<text x="462.56" y="178.80" font-family='"Liberation Sans", sans-serif' font-weight="normal" font-style="normal" font-size="6.7" fill="#000" text-anchor="middle" stroke="#000" stroke-width="0.22">0.8</text>
<line x1="496.80" y1="170.3" x2="496.80" y2="167.3" stroke="#6e6e6e" stroke-width="0.8"/>
<line x1="496.80" y1="23.4" x2="496.80" y2="26.4" stroke="#6e6e6e" stroke-width="0.8"/>
<text x="496.80" y="178.80" font-family='"Liberation Sans", sans-serif' font-weight="normal" font-style="normal" font-size="6.7" fill="#000" text-anchor="middle" stroke="#000" stroke-width="0.22">1</text>
<line x1="531.04" y1="170.3" x2="531.04" y2="167.3" stroke="#6e6e6e" stroke-width="0.8"/>
<line x1="531.04" y1="23.4" x2="531.04" y2="26.4" stroke="#6e6e6e" stroke-width="0.8"/>
<text x="531.04" y="178.80" font-family='"Liberation Sans", sans-serif' font-weight="normal" font-style="normal" font-size="6.7" fill="#000" text-anchor="middle" stroke="#000" stroke-width="0.22">1.2</text>
<line x1="565.28" y1="170.3" x2="565.28" y2="167.3" stroke="#6e6e6e" stroke-width="0.8"/>
<line x1="565.28" y1="23.4" x2="565.28" y2="26.4" stroke="#6e6e6e" stroke-width="0.8"/>
<text x="565.28" y="178.80" font-family='"Liberation Sans", sans-serif' font-weight="normal" font-style="normal" font-size="6.7" fill="#000" text-anchor="middle" stroke="#000" stroke-width="0.22">1.4</text>
<line x1="599.52" y1="170.3" x2="599.52" y2="167.3" stroke="#6e6e6e" stroke-width="0.8"/>
<line x1="599.52" y1="23.4" x2="599.52" y2="26.4" stroke="#6e6e6e" stroke-width="0.8"/>
<text x="599.52" y="178.80" font-family='"Liberation Sans", sans-serif' font-weight="normal" font-style="normal" font-size="6.7" fill="#000" text-anchor="middle" stroke="#000" stroke-width="0.22">1.6</text>
<line x1="633.76" y1="170.3" x2="633.76" y2="167.3" stroke="#6e6e6e" stroke-width="0.8"/>
<line x1="633.76" y1="23.4" x2="633.76" y2="26.4" stroke="#6e6e6e" stroke-width="0.8"/>
<text x="633.76" y="178.80" font-family='"Liberation Sans", sans-serif' font-weight="normal" font-style="normal" font-size="6.7" fill="#000" text-anchor="middle" stroke="#000" stroke-width="0.22">1.8</text>
<line x1="668.00" y1="170.3" x2="668.00" y2="167.3" stroke="#6e6e6e" stroke-width="0.8"/>
<line x1="668.00" y1="23.4" x2="668.00" y2="26.4" stroke="#6e6e6e" stroke-width="0.8"/>
<text x="668.00" y="178.80" font-family='"Liberation Sans", sans-serif' font-weight="normal" font-style="normal" font-size="6.7" fill="#000" text-anchor="middle" stroke="#000" stroke-width="0.22">2</text>
<line x1="325.6" y1="159.00" x2="328.6" y2="159.00" stroke="#6e6e6e" stroke-width="0.8"/>
<line x1="668.0" y1="159.00" x2="665.0" y2="159.00" stroke="#6e6e6e" stroke-width="0.8"/>
<text x="322.80" y="161.40" font-family='"Liberation Sans", sans-serif' font-weight="normal" font-style="normal" font-size="6.6" fill="#000" text-anchor="end" stroke="#000" stroke-width="0.22">0</text>
<line x1="325.6" y1="136.40" x2="328.6" y2="136.40" stroke="#6e6e6e" stroke-width="0.8"/>
<line x1="668.0" y1="136.40" x2="665.0" y2="136.40" stroke="#6e6e6e" stroke-width="0.8"/>
<text x="322.80" y="138.80" font-family='"Liberation Sans", sans-serif' font-weight="normal" font-style="normal" font-size="6.6" fill="#000" text-anchor="end" stroke="#000" stroke-width="0.22">1000</text>
<line x1="325.6" y1="113.80" x2="328.6" y2="113.80" stroke="#6e6e6e" stroke-width="0.8"/>
<line x1="668.0" y1="113.80" x2="665.0" y2="113.80" stroke="#6e6e6e" stroke-width="0.8"/>
<text x="322.80" y="116.20" font-family='"Liberation Sans", sans-serif' font-weight="normal" font-style="normal" font-size="6.6" fill="#000" text-anchor="end" stroke="#000" stroke-width="0.22">2000</text>
<line x1="325.6" y1="91.20" x2="328.6" y2="91.20" stroke="#6e6e6e" stroke-width="0.8"/>
<line x1="668.0" y1="91.20" x2="665.0" y2="91.20" stroke="#6e6e6e" stroke-width="0.8"/>
<text x="322.80" y="93.60" font-family='"Liberation Sans", sans-serif' font-weight="normal" font-style="normal" font-size="6.6" fill="#000" text-anchor="end" stroke="#000" stroke-width="0.22">3000</text>
<line x1="325.6" y1="68.60" x2="328.6" y2="68.60" stroke="#6e6e6e" stroke-width="0.8"/>
<line x1="668.0" y1="68.60" x2="665.0" y2="68.60" stroke="#6e6e6e" stroke-width="0.8"/>
<text x="322.80" y="71.00" font-family='"Liberation Sans", sans-serif' font-weight="normal" font-style="normal" font-size="6.6" fill="#000" text-anchor="end" stroke="#000" stroke-width="0.22">4000</text>
<line x1="325.6" y1="46.00" x2="328.6" y2="46.00" stroke="#6e6e6e" stroke-width="0.8"/>
<line x1="668.0" y1="46.00" x2="665.0" y2="46.00" stroke="#6e6e6e" stroke-width="0.8"/>
<text x="322.80" y="48.40" font-family='"Liberation Sans", sans-serif' font-weight="normal" font-style="normal" font-size="6.6" fill="#000" text-anchor="end" stroke="#000" stroke-width="0.22">5000</text>
<line x1="325.6" y1="23.40" x2="328.6" y2="23.40" stroke="#6e6e6e" stroke-width="0.8"/>
<line x1="668.0" y1="23.40" x2="665.0" y2="23.40" stroke="#6e6e6e" stroke-width="0.8"/>
<text x="322.80" y="25.80" font-family='"Liberation Sans", sans-serif' font-weight="normal" font-style="normal" font-size="6.6" fill="#000" text-anchor="end" stroke="#000" stroke-width="0.22">6000</text>
<text x="496.80" y="19.90" font-family='"Liberation Sans", sans-serif' font-weight="normal" font-style="normal" font-size="7.0" fill="#000" text-anchor="middle" stroke="#000" stroke-width="0.3">ppv</text>
<text x="496.80" y="188.30" font-family='"Liberation Sans", sans-serif' font-weight="bold" font-style="normal" font-size="7.6" fill="#000" text-anchor="middle" stroke="#000" stroke-width="0.3">t(s)</text>
<text x="0.00" y="0.00" font-family='"Liberation Sans", sans-serif' font-weight="normal" font-style="normal" font-size="6.9" fill="#000" text-anchor="middle" stroke="#000" stroke-width="0.3" transform="translate(305.60,96.85) rotate(-90)">P(W)</text>
<polyline points="325.90,158.00 326.20,91.50" fill="none" stroke="#2a2aff" stroke-width="1.0"/>
<polyline points="326.20,92.00 326.50,68.00 327.00,52.00 327.60,40.00 328.40,34.50 329.20,33.80 333.90,33.80 334.60,40.80 335.10,36.00 336.20,67.00 337.40,33.80 338.00,36.00 338.70,52.60 339.80,33.80 428.20,33.80 428.40,107.40 430.60,70.40 431.50,104.60 434.50,62.70 435.30,66.00 436.00,61.50 436.60,63.00 437.20,61.00 438.30,106.50 439.25,92.50 440.20,106.50 441.15,92.50 442.10,106.50 443.05,92.50 444.00,106.50 445.50,62.10 446.50,66.00 447.70,72.60 448.50,64.00 449.40,60.50 668.00,60.50" fill="none" stroke="#0a0aff" stroke-width="1.6" stroke-linejoin="round"/>
<rect x="572.0" y="80.0" width="78.8" height="26.5" fill="#8c8c8c" filter="url(#bl1)"/>
<rect x="570.5" y="78.5" width="78.8" height="26.5" fill="#f3f3f3"/>
<rect x="578.2" y="89.5" width="8.3" height="8.5" fill="#f9b0c3"/>
<path d="M578.2 89.5 L579.7 88.2 H588.0 L586.5 89.5 Z" fill="#fcccd8"/>
<path d="M586.5 89.5 L588.0 88.2 V96.7 L586.5 98.0 Z" fill="#f27c9c"/>
<text x="594.06" y="97.70" font-family='"Liberation Serif", serif' font-weight="bold" font-style="normal" font-size="16" fill="#3d63b8" textLength="50.27" lengthAdjust="spacingAndGlyphs" style="font-kerning:none" >IRIME</text>
<line x1="298.0" y1="198.4" x2="673.5" y2="198.4" stroke="#f4b400" stroke-width="1.8" stroke-dasharray="11.7 6.5" stroke-dashoffset="8.0"/>
<line x1="298.0" y1="370.5" x2="673.5" y2="370.5" stroke="#f4b400" stroke-width="1.8" stroke-dasharray="11.7 6.5" stroke-dashoffset="8.1"/>
<line x1="298.0" y1="198.4" x2="298.0" y2="370.5" stroke="#f4b400" stroke-width="1.8" stroke-dasharray="11.7 6.5" stroke-dashoffset="0"/>
<line x1="673.5" y1="198.4" x2="673.5" y2="370.5" stroke="#f4b400" stroke-width="1.8" stroke-dasharray="11.7 6.5" stroke-dashoffset="0"/>
<rect x="325.5" y="210.8" width="342.5" height="136.2" fill="#fff" stroke="#6e6e6e" stroke-width="0.9"/>
<line x1="325.50" y1="347.0" x2="325.50" y2="344.0" stroke="#6e6e6e" stroke-width="0.8"/>
<line x1="325.50" y1="210.8" x2="325.50" y2="213.8" stroke="#6e6e6e" stroke-width="0.8"/>
<text x="325.50" y="355.50" font-family='"Liberation Sans", sans-serif' font-weight="normal" font-style="normal" font-size="6.7" fill="#000" text-anchor="middle" stroke="#000" stroke-width="0.22">0</text>
<line x1="359.75" y1="347.0" x2="359.75" y2="344.0" stroke="#6e6e6e" stroke-width="0.8"/>
<line x1="359.75" y1="210.8" x2="359.75" y2="213.8" stroke="#6e6e6e" stroke-width="0.8"/>
<text x="359.75" y="355.50" font-family='"Liberation Sans", sans-serif' font-weight="normal" font-style="normal" font-size="6.7" fill="#000" text-anchor="middle" stroke="#000" stroke-width="0.22">0.2</text>
<line x1="394.00" y1="347.0" x2="394.00" y2="344.0" stroke="#6e6e6e" stroke-width="0.8"/>
<line x1="394.00" y1="210.8" x2="394.00" y2="213.8" stroke="#6e6e6e" stroke-width="0.8"/>
<text x="394.00" y="355.50" font-family='"Liberation Sans", sans-serif' font-weight="normal" font-style="normal" font-size="6.7" fill="#000" text-anchor="middle" stroke="#000" stroke-width="0.22">0.4</text>
<line x1="428.25" y1="347.0" x2="428.25" y2="344.0" stroke="#6e6e6e" stroke-width="0.8"/>
<line x1="428.25" y1="210.8" x2="428.25" y2="213.8" stroke="#6e6e6e" stroke-width="0.8"/>
<text x="428.25" y="355.50" font-family='"Liberation Sans", sans-serif' font-weight="normal" font-style="normal" font-size="6.7" fill="#000" text-anchor="middle" stroke="#000" stroke-width="0.22">0.6</text>
<line x1="462.50" y1="347.0" x2="462.50" y2="344.0" stroke="#6e6e6e" stroke-width="0.8"/>
<line x1="462.50" y1="210.8" x2="462.50" y2="213.8" stroke="#6e6e6e" stroke-width="0.8"/>
<text x="462.50" y="355.50" font-family='"Liberation Sans", sans-serif' font-weight="normal" font-style="normal" font-size="6.7" fill="#000" text-anchor="middle" stroke="#000" stroke-width="0.22">0.8</text>
<line x1="496.75" y1="347.0" x2="496.75" y2="344.0" stroke="#6e6e6e" stroke-width="0.8"/>
<line x1="496.75" y1="210.8" x2="496.75" y2="213.8" stroke="#6e6e6e" stroke-width="0.8"/>
<text x="496.75" y="355.50" font-family='"Liberation Sans", sans-serif' font-weight="normal" font-style="normal" font-size="6.7" fill="#000" text-anchor="middle" stroke="#000" stroke-width="0.22">1</text>
<line x1="531.00" y1="347.0" x2="531.00" y2="344.0" stroke="#6e6e6e" stroke-width="0.8"/>
<line x1="531.00" y1="210.8" x2="531.00" y2="213.8" stroke="#6e6e6e" stroke-width="0.8"/>
<text x="531.00" y="355.50" font-family='"Liberation Sans", sans-serif' font-weight="normal" font-style="normal" font-size="6.7" fill="#000" text-anchor="middle" stroke="#000" stroke-width="0.22">1.2</text>
<line x1="565.25" y1="347.0" x2="565.25" y2="344.0" stroke="#6e6e6e" stroke-width="0.8"/>
<line x1="565.25" y1="210.8" x2="565.25" y2="213.8" stroke="#6e6e6e" stroke-width="0.8"/>
<text x="565.25" y="355.50" font-family='"Liberation Sans", sans-serif' font-weight="normal" font-style="normal" font-size="6.7" fill="#000" text-anchor="middle" stroke="#000" stroke-width="0.22">1.4</text>
<line x1="599.50" y1="347.0" x2="599.50" y2="344.0" stroke="#6e6e6e" stroke-width="0.8"/>
<line x1="599.50" y1="210.8" x2="599.50" y2="213.8" stroke="#6e6e6e" stroke-width="0.8"/>
<text x="599.50" y="355.50" font-family='"Liberation Sans", sans-serif' font-weight="normal" font-style="normal" font-size="6.7" fill="#000" text-anchor="middle" stroke="#000" stroke-width="0.22">1.6</text>
<line x1="633.75" y1="347.0" x2="633.75" y2="344.0" stroke="#6e6e6e" stroke-width="0.8"/>
<line x1="633.75" y1="210.8" x2="633.75" y2="213.8" stroke="#6e6e6e" stroke-width="0.8"/>
<text x="633.75" y="355.50" font-family='"Liberation Sans", sans-serif' font-weight="normal" font-style="normal" font-size="6.7" fill="#000" text-anchor="middle" stroke="#000" stroke-width="0.22">1.8</text>
<line x1="668.00" y1="347.0" x2="668.00" y2="344.0" stroke="#6e6e6e" stroke-width="0.8"/>
<line x1="668.00" y1="210.8" x2="668.00" y2="213.8" stroke="#6e6e6e" stroke-width="0.8"/>
<text x="668.00" y="355.50" font-family='"Liberation Sans", sans-serif' font-weight="normal" font-style="normal" font-size="6.7" fill="#000" text-anchor="middle" stroke="#000" stroke-width="0.22">2</text>
<line x1="325.5" y1="336.52" x2="328.5" y2="336.52" stroke="#6e6e6e" stroke-width="0.8"/>
<line x1="668.0" y1="336.52" x2="665.0" y2="336.52" stroke="#6e6e6e" stroke-width="0.8"/>
<text x="322.70" y="338.92" font-family='"Liberation Sans", sans-serif' font-weight="normal" font-style="normal" font-size="6.6" fill="#000" text-anchor="end" stroke="#000" stroke-width="0.22">0</text>
<line x1="325.5" y1="315.57" x2="328.5" y2="315.57" stroke="#6e6e6e" stroke-width="0.8"/>
<line x1="668.0" y1="315.57" x2="665.0" y2="315.57" stroke="#6e6e6e" stroke-width="0.8"/>
<text x="322.70" y="317.97" font-family='"Liberation Sans", sans-serif' font-weight="normal" font-style="normal" font-size="6.6" fill="#000" text-anchor="end" stroke="#000" stroke-width="0.22">1000</text>
<line x1="325.5" y1="294.62" x2="328.5" y2="294.62" stroke="#6e6e6e" stroke-width="0.8"/>
<line x1="668.0" y1="294.62" x2="665.0" y2="294.62" stroke="#6e6e6e" stroke-width="0.8"/>
<text x="322.70" y="297.02" font-family='"Liberation Sans", sans-serif' font-weight="normal" font-style="normal" font-size="6.6" fill="#000" text-anchor="end" stroke="#000" stroke-width="0.22">2000</text>
<line x1="325.5" y1="273.66" x2="328.5" y2="273.66" stroke="#6e6e6e" stroke-width="0.8"/>
<line x1="668.0" y1="273.66" x2="665.0" y2="273.66" stroke="#6e6e6e" stroke-width="0.8"/>
<text x="322.70" y="276.06" font-family='"Liberation Sans", sans-serif' font-weight="normal" font-style="normal" font-size="6.6" fill="#000" text-anchor="end" stroke="#000" stroke-width="0.22">3000</text>
<line x1="325.5" y1="252.71" x2="328.5" y2="252.71" stroke="#6e6e6e" stroke-width="0.8"/>
<line x1="668.0" y1="252.71" x2="665.0" y2="252.71" stroke="#6e6e6e" stroke-width="0.8"/>
<text x="322.70" y="255.11" font-family='"Liberation Sans", sans-serif' font-weight="normal" font-style="normal" font-size="6.6" fill="#000" text-anchor="end" stroke="#000" stroke-width="0.22">4000</text>
<line x1="325.5" y1="231.75" x2="328.5" y2="231.75" stroke="#6e6e6e" stroke-width="0.8"/>
<line x1="668.0" y1="231.75" x2="665.0" y2="231.75" stroke="#6e6e6e" stroke-width="0.8"/>
<text x="322.70" y="234.15" font-family='"Liberation Sans", sans-serif' font-weight="normal" font-style="normal" font-size="6.6" fill="#000" text-anchor="end" stroke="#000" stroke-width="0.22">5000</text>
<line x1="325.5" y1="210.80" x2="328.5" y2="210.80" stroke="#6e6e6e" stroke-width="0.8"/>
<line x1="668.0" y1="210.80" x2="665.0" y2="210.80" stroke="#6e6e6e" stroke-width="0.8"/>
<text x="322.70" y="213.20" font-family='"Liberation Sans", sans-serif' font-weight="normal" font-style="normal" font-size="6.6" fill="#000" text-anchor="end" stroke="#000" stroke-width="0.22">6000</text>
<text x="496.75" y="207.30" font-family='"Liberation Sans", sans-serif' font-weight="normal" font-style="normal" font-size="7.0" fill="#000" text-anchor="middle" stroke="#000" stroke-width="0.3">ppv</text>
<text x="496.75" y="365.00" font-family='"Liberation Sans", sans-serif' font-weight="bold" font-style="normal" font-size="7.6" fill="#000" text-anchor="middle" stroke="#000" stroke-width="0.3">t(s)</text>
<text x="0.00" y="0.00" font-family='"Liberation Sans", sans-serif' font-weight="normal" font-style="normal" font-size="6.9" fill="#000" text-anchor="middle" stroke="#000" stroke-width="0.3" transform="translate(305.60,278.90) rotate(-90)">P(W)</text>
<polyline points="325.90,336.00 326.20,236.00" fill="none" stroke="#2a2aff" stroke-width="1.0"/>
<polyline points="326.30,237.00 326.40,219.60 327.20,237.00 328.00,219.60 328.80,237.00 329.60,219.60 330.40,237.00 331.20,219.60 332.00,237.00 333.50,224.00 334.40,229.70 348.20,229.70 349.60,239.00 350.30,236.00 351.30,260.80 353.60,220.30 355.80,237.20 357.10,221.20 428.10,221.20 428.20,266.60 428.40,244.40 429.15,266.40 429.90,244.40 430.65,266.40 431.50,254.00 432.50,256.30 434.10,256.80 435.00,258.00 435.80,266.60 437.10,244.40 438.80,262.30 440.10,244.40 440.30,266.40 441.25,244.40 442.20,266.40 443.15,244.40 444.10,266.40 444.60,245.70 446.00,262.30 447.30,249.10 449.00,250.00 450.70,250.80 452.00,269.60 453.30,281.10 455.40,246.50 456.70,245.30 458.00,247.00 668.00,247.00" fill="none" stroke="#0a0aff" stroke-width="1.6" stroke-linejoin="round"/>
<rect x="579.7" y="258.9" width="70.8" height="23.4" fill="#8c8c8c" filter="url(#bl1)"/>
<rect x="578.2" y="257.4" width="70.8" height="23.4" fill="#f3f3f3"/>
<rect x="584.0" y="263.5" width="9.1" height="9.3" fill="#fed766"/>
<path d="M584.0 263.5 L585.5 262.2 H594.6 L593.1 263.5 Z" fill="#fee690"/>
<path d="M593.1 263.5 L594.6 262.2 V271.5 L593.1 272.8 Z" fill="#fdc62c"/>
<text x="598.43" y="273.50" font-family='"Liberation Serif", serif' font-weight="bold" font-style="normal" font-size="16" fill="#3d63b8" textLength="43.39" lengthAdjust="spacingAndGlyphs" style="font-kerning:none" >RIME</text>
<line x1="298.0" y1="377.9" x2="673.5" y2="377.9" stroke="#4e7d2c" stroke-width="1.8" stroke-dasharray="11.7 6.5" stroke-dashoffset="2.8"/>
<line x1="298.0" y1="552.5" x2="673.5" y2="552.5" stroke="#4e7d2c" stroke-width="1.8" stroke-dasharray="11.7 6.5" stroke-dashoffset="11.2"/>
<line x1="298.0" y1="377.9" x2="298.0" y2="552.5" stroke="#4e7d2c" stroke-width="1.8" stroke-dasharray="11.7 6.5" stroke-dashoffset="0"/>
<line x1="673.5" y1="377.9" x2="673.5" y2="552.5" stroke="#4e7d2c" stroke-width="1.8" stroke-dasharray="11.7 6.5" stroke-dashoffset="0"/>
<rect x="326.6" y="390.4" width="341.69999999999993" height="140.30000000000007" fill="#fff" stroke="#6e6e6e" stroke-width="0.9"/>
<line x1="326.60" y1="530.7" x2="326.60" y2="527.7" stroke="#6e6e6e" stroke-width="0.8"/>
<line x1="326.60" y1="390.4" x2="326.60" y2="393.4" stroke="#6e6e6e" stroke-width="0.8"/>
<text x="326.60" y="539.20" font-family='"Liberation Sans", sans-serif' font-weight="normal" font-style="normal" font-size="6.7" fill="#000" text-anchor="middle" stroke="#000" stroke-width="0.22">0</text>
<line x1="360.77" y1="530.7" x2="360.77" y2="527.7" stroke="#6e6e6e" stroke-width="0.8"/>
<line x1="360.77" y1="390.4" x2="360.77" y2="393.4" stroke="#6e6e6e" stroke-width="0.8"/>
<text x="360.77" y="539.20" font-family='"Liberation Sans", sans-serif' font-weight="normal" font-style="normal" font-size="6.7" fill="#000" text-anchor="middle" stroke="#000" stroke-width="0.22">0.2</text>
<line x1="394.94" y1="530.7" x2="394.94" y2="527.7" stroke="#6e6e6e" stroke-width="0.8"/>
<line x1="394.94" y1="390.4" x2="394.94" y2="393.4" stroke="#6e6e6e" stroke-width="0.8"/>
<text x="394.94" y="539.20" font-family='"Liberation Sans", sans-serif' font-weight="normal" font-style="normal" font-size="6.7" fill="#000" text-anchor="middle" stroke="#000" stroke-width="0.22">0.4</text>
<line x1="429.11" y1="530.7" x2="429.11" y2="527.7" stroke="#6e6e6e" stroke-width="0.8"/>
<line x1="429.11" y1="390.4" x2="429.11" y2="393.4" stroke="#6e6e6e" stroke-width="0.8"/>
<text x="429.11" y="539.20" font-family='"Liberation Sans", sans-serif' font-weight="normal" font-style="normal" font-size="6.7" fill="#000" text-anchor="middle" stroke="#000" stroke-width="0.22">0.6</text>
<line x1="463.28" y1="530.7" x2="463.28" y2="527.7" stroke="#6e6e6e" stroke-width="0.8"/>
<line x1="463.28" y1="390.4" x2="463.28" y2="393.4" stroke="#6e6e6e" stroke-width="0.8"/>
<text x="463.28" y="539.20" font-family='"Liberation Sans", sans-serif' font-weight="normal" font-style="normal" font-size="6.7" fill="#000" text-anchor="middle" stroke="#000" stroke-width="0.22">0.8</text>
<line x1="497.45" y1="530.7" x2="497.45" y2="527.7" stroke="#6e6e6e" stroke-width="0.8"/>
<line x1="497.45" y1="390.4" x2="497.45" y2="393.4" stroke="#6e6e6e" stroke-width="0.8"/>
<text x="497.45" y="539.20" font-family='"Liberation Sans", sans-serif' font-weight="normal" font-style="normal" font-size="6.7" fill="#000" text-anchor="middle" stroke="#000" stroke-width="0.22">1</text>
<line x1="531.62" y1="530.7" x2="531.62" y2="527.7" stroke="#6e6e6e" stroke-width="0.8"/>
<line x1="531.62" y1="390.4" x2="531.62" y2="393.4" stroke="#6e6e6e" stroke-width="0.8"/>
<text x="531.62" y="539.20" font-family='"Liberation Sans", sans-serif' font-weight="normal" font-style="normal" font-size="6.7" fill="#000" text-anchor="middle" stroke="#000" stroke-width="0.22">1.2</text>
<line x1="565.79" y1="530.7" x2="565.79" y2="527.7" stroke="#6e6e6e" stroke-width="0.8"/>
<line x1="565.79" y1="390.4" x2="565.79" y2="393.4" stroke="#6e6e6e" stroke-width="0.8"/>
<text x="565.79" y="539.20" font-family='"Liberation Sans", sans-serif' font-weight="normal" font-style="normal" font-size="6.7" fill="#000" text-anchor="middle" stroke="#000" stroke-width="0.22">1.4</text>
<line x1="599.96" y1="530.7" x2="599.96" y2="527.7" stroke="#6e6e6e" stroke-width="0.8"/>
<line x1="599.96" y1="390.4" x2="599.96" y2="393.4" stroke="#6e6e6e" stroke-width="0.8"/>
<text x="599.96" y="539.20" font-family='"Liberation Sans", sans-serif' font-weight="normal" font-style="normal" font-size="6.7" fill="#000" text-anchor="middle" stroke="#000" stroke-width="0.22">1.6</text>
<line x1="634.13" y1="530.7" x2="634.13" y2="527.7" stroke="#6e6e6e" stroke-width="0.8"/>
<line x1="634.13" y1="390.4" x2="634.13" y2="393.4" stroke="#6e6e6e" stroke-width="0.8"/>
<text x="634.13" y="539.20" font-family='"Liberation Sans", sans-serif' font-weight="normal" font-style="normal" font-size="6.7" fill="#000" text-anchor="middle" stroke="#000" stroke-width="0.22">1.8</text>
<line x1="668.30" y1="530.7" x2="668.30" y2="527.7" stroke="#6e6e6e" stroke-width="0.8"/>
<line x1="668.30" y1="390.4" x2="668.30" y2="393.4" stroke="#6e6e6e" stroke-width="0.8"/>
<text x="668.30" y="539.20" font-family='"Liberation Sans", sans-serif' font-weight="normal" font-style="normal" font-size="6.7" fill="#000" text-anchor="middle" stroke="#000" stroke-width="0.22">2</text>
<line x1="326.6" y1="519.91" x2="329.6" y2="519.91" stroke="#6e6e6e" stroke-width="0.8"/>
<line x1="668.3" y1="519.91" x2="665.3" y2="519.91" stroke="#6e6e6e" stroke-width="0.8"/>
<text x="323.80" y="522.31" font-family='"Liberation Sans", sans-serif' font-weight="normal" font-style="normal" font-size="6.6" fill="#000" text-anchor="end" stroke="#000" stroke-width="0.22">0</text>
<line x1="326.6" y1="498.32" x2="329.6" y2="498.32" stroke="#6e6e6e" stroke-width="0.8"/>
<line x1="668.3" y1="498.32" x2="665.3" y2="498.32" stroke="#6e6e6e" stroke-width="0.8"/>
<text x="323.80" y="500.72" font-family='"Liberation Sans", sans-serif' font-weight="normal" font-style="normal" font-size="6.6" fill="#000" text-anchor="end" stroke="#000" stroke-width="0.22">1000</text>
<line x1="326.6" y1="476.74" x2="329.6" y2="476.74" stroke="#6e6e6e" stroke-width="0.8"/>
<line x1="668.3" y1="476.74" x2="665.3" y2="476.74" stroke="#6e6e6e" stroke-width="0.8"/>
<text x="323.80" y="479.14" font-family='"Liberation Sans", sans-serif' font-weight="normal" font-style="normal" font-size="6.6" fill="#000" text-anchor="end" stroke="#000" stroke-width="0.22">2000</text>
<line x1="326.6" y1="455.15" x2="329.6" y2="455.15" stroke="#6e6e6e" stroke-width="0.8"/>
<line x1="668.3" y1="455.15" x2="665.3" y2="455.15" stroke="#6e6e6e" stroke-width="0.8"/>
<text x="323.80" y="457.55" font-family='"Liberation Sans", sans-serif' font-weight="normal" font-style="normal" font-size="6.6" fill="#000" text-anchor="end" stroke="#000" stroke-width="0.22">3000</text>
<line x1="326.6" y1="433.57" x2="329.6" y2="433.57" stroke="#6e6e6e" stroke-width="0.8"/>
<line x1="668.3" y1="433.57" x2="665.3" y2="433.57" stroke="#6e6e6e" stroke-width="0.8"/>
<text x="323.80" y="435.97" font-family='"Liberation Sans", sans-serif' font-weight="normal" font-style="normal" font-size="6.6" fill="#000" text-anchor="end" stroke="#000" stroke-width="0.22">4000</text>
<line x1="326.6" y1="411.98" x2="329.6" y2="411.98" stroke="#6e6e6e" stroke-width="0.8"/>
<line x1="668.3" y1="411.98" x2="665.3" y2="411.98" stroke="#6e6e6e" stroke-width="0.8"/>
<text x="323.80" y="414.38" font-family='"Liberation Sans", sans-serif' font-weight="normal" font-style="normal" font-size="6.6" fill="#000" text-anchor="end" stroke="#000" stroke-width="0.22">5000</text>
<line x1="326.6" y1="390.40" x2="329.6" y2="390.40" stroke="#6e6e6e" stroke-width="0.8"/>
<line x1="668.3" y1="390.40" x2="665.3" y2="390.40" stroke="#6e6e6e" stroke-width="0.8"/>
<text x="323.80" y="392.80" font-family='"Liberation Sans", sans-serif' font-weight="normal" font-style="normal" font-size="6.6" fill="#000" text-anchor="end" stroke="#000" stroke-width="0.22">6000</text>
<text x="497.45" y="386.90" font-family='"Liberation Sans", sans-serif' font-weight="normal" font-style="normal" font-size="7.0" fill="#000" text-anchor="middle" stroke="#000" stroke-width="0.3">ppv</text>
<text x="497.45" y="548.70" font-family='"Liberation Sans", sans-serif' font-weight="bold" font-style="normal" font-size="7.6" fill="#000" text-anchor="middle" stroke="#000" stroke-width="0.3">t(s)</text>
<text x="0.00" y="0.00" font-family='"Liberation Sans", sans-serif' font-weight="normal" font-style="normal" font-size="6.9" fill="#000" text-anchor="middle" stroke="#000" stroke-width="0.3" transform="translate(305.60,460.55) rotate(-90)">P(W)</text>
<polyline points="326.80,519.00 326.90,417.00" fill="none" stroke="#2a2aff" stroke-width="1.0"/>
<polyline points="326.90,418.00 326.90,399.12 327.38,416.10 327.86,399.41 328.34,415.89 328.82,399.98 329.30,417.77 329.78,398.63 330.26,415.07 330.74,399.17 331.22,417.18 331.70,400.79 332.18,416.35 332.66,400.44 333.80,462.90 334.70,507.80 335.60,462.90 336.40,399.86 336.88,416.50 337.36,399.87 337.84,417.28 338.32,400.39 338.80,415.12 339.28,400.04 339.76,417.44 340.24,399.75 340.72,416.85 341.20,399.15 342.70,453.30 343.60,488.60 344.50,453.30 345.30,399.75 345.78,415.18 346.26,400.71 346.74,416.99 347.22,400.29 347.70,415.54 348.18,400.06 348.66,417.61 349.14,398.66 349.62,416.66 351.10,436.75 352.00,455.50 352.90,436.75 353.70,400.17 354.18,415.06 354.66,399.00 355.14,414.51 355.62,399.03 356.10,415.65 356.58,398.80 357.06,415.35 357.54,398.93 358.02,415.53 359.50,436.75 360.40,455.50 361.30,436.75 362.00,399.50 363.00,402.00 363.80,417.50 364.60,399.50 365.50,403.00 366.40,410.50 367.20,399.50 368.20,404.00 369.00,424.50 369.80,399.50 371.00,403.00 372.00,417.00 372.80,399.50 373.80,402.00 374.70,406.00 375.50,399.50 376.70,403.00 377.60,422.30 378.50,399.50 379.60,401.50 380.40,403.50 381.20,400.00 383.00,401.50 384.50,400.00 386.10,415.30 386.90,400.00 387.80,402.00 388.60,400.00 391.00,401.20 393.00,400.00 394.80,410.50 395.60,400.00 396.60,402.00 397.40,400.30 400.00,401.00 402.30,400.30 403.20,405.70 404.00,400.50 407.00,401.20 411.00,400.50 411.90,405.70 412.70,400.50 428.40,400.50 428.90,432.80 429.60,416.10 430.50,420.00 431.50,416.00 432.90,425.00 434.00,439.40 434.70,468.30 436.00,465.00 437.30,510.60 438.50,470.00 439.10,428.30 440.00,423.90 441.50,426.00 442.90,439.40 444.00,460.00 445.60,473.90 447.00,440.00 448.00,422.80 449.00,425.00 450.00,424.00 450.70,430.60 452.00,450.00 454.00,468.30 455.50,440.00 456.20,422.80 458.00,423.00 459.00,430.00 460.00,440.00 462.50,469.00 465.00,421.20 466.00,423.00 466.80,428.00 468.10,433.00 469.30,422.40 470.50,430.00 471.50,464.80 473.00,435.00 474.70,421.20 476.00,428.00 477.50,425.00 478.00,432.00 479.00,427.00 479.90,452.30 481.00,428.00 482.00,432.00 483.70,426.20 485.00,431.00 486.50,428.00 488.60,425.50 490.00,430.00 491.00,431.00 493.00,427.00 495.00,432.00 497.40,426.80 500.00,432.00 502.00,428.00 504.00,431.00 506.00,426.80 508.00,432.00 510.00,428.00 512.00,429.00 513.50,431.00 515.40,426.80 517.00,430.50 668.00,430.50" fill="none" stroke="#0a0aff" stroke-width="1.6" stroke-linejoin="round"/>
<rect x="558.4" y="440.2" width="99.3" height="24.0" fill="#8c8c8c" filter="url(#bl1)"/>
<rect x="556.9" y="438.7" width="99.3" height="24.0" fill="#f3f3f3"/>
<rect x="565.1" y="443.8" width="10.1" height="10.3" fill="#a5d487"/>
<path d="M565.1 443.8 L566.6 442.5 H576.7 L575.2 443.8 Z" fill="#c6e6b0"/>
<path d="M575.2 443.8 L576.7 442.5 V452.8 L575.2 454.1 Z" fill="#8cc46c"/>
<text x="581.13" y="453.90" font-family='"Liberation Serif", serif' font-weight="bold" font-style="normal" font-size="16" fill="#3d63b8" textLength="71.19" lengthAdjust="spacingAndGlyphs" style="font-kerning:none" >PSO-BOA</text>
<rect x="0" y="0" width="685" height="3" fill="#c6d6ef"/>
<rect x="0" y="0" width="1" height="562" fill="url(#fg)"/>
<rect x="1" y="0" width="2.4" height="562" fill="url(#fr)"/>
<rect x="681.6" y="0" width="2.6" height="562" fill="url(#fr)"/>
<rect x="684.2" y="0" width="0.8" height="562" fill="url(#fg)"/>
<rect x="0" y="559.2" width="685" height="1.5" fill="#23478f"/>
<rect x="0" y="560.7" width="685" height="1.3" fill="#3e60a8"/>
</svg></body></html>
